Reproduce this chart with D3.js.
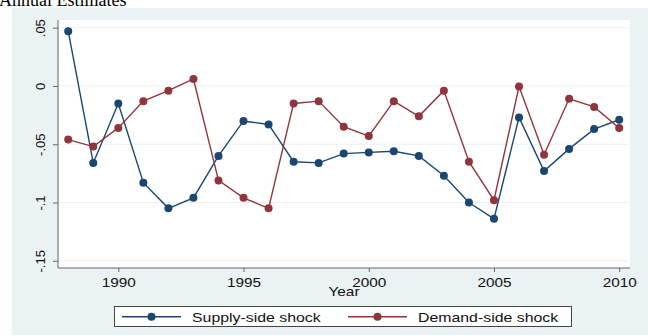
<!DOCTYPE html>
<html>
<head>
<meta charset="utf-8">
<script src="https://cdn.jsdelivr.net/npm/d3@7"></script>
<style>
  html, body { margin: 0; padding: 0; background: #fff; }
  svg { display: block; }
  text { font-family: "Liberation Sans", Arial, sans-serif; fill: #111; }
</style>
</head>
<body>
<div id="chart"></div>
<script>
// data
var years       = d3.range(1988, 2011);
var supply      = [0.047, -0.066, -0.015, -0.083, -0.105, -0.096, -0.060, -0.030,
                   -0.033, -0.065, -0.066, -0.058, -0.057, -0.056, -0.060, -0.077,
                   -0.100, -0.114, -0.027, -0.073, -0.054, -0.037, -0.029];
var demand      = [-0.046, -0.052, -0.036, -0.013, -0.004, 0.006, -0.081, -0.096,
                   -0.105, -0.015, -0.013, -0.035, -0.043, -0.013, -0.026, -0.004,
                   -0.065, -0.098, -0.0005, -0.059, -0.011, -0.018, -0.036];
var xTicks      = [1990, 1995, 2000, 2005, 2010];
var yTicks      = [0.05, 0, -0.05, -0.1, -0.15];
var yTickLabels = [".05", "0", "-.05", "-.1", "-.15"];
var seriesNames = ["Supply-side shock", "Demand-side shock"];

var chart_width  = 648;
var chart_height = 336;
var navy   = "#1a476f";
var maroon = "#90353b";
var stretch = 1.18;   // the original picture is a little wider than tall

var plot = {left: 58, right: 630, top: 20, bottom: 268};

var x = d3.scaleLinear().domain([1990, 2010]).range([118.3, 619.2]);
var y = d3.scaleLinear().domain([-0.15, 0.05]).range([260.8, 27.7]);

var svg = d3.select("#chart")
  .append("svg")
  .attr("width", chart_width)
  .attr("height", chart_height);

// outer background
svg.append("rect")
  .attr("x", 12).attr("y", 8)
  .attr("width", chart_width - 12).attr("height", 327)
  .attr("fill", "#eaf2f3");

svg.append("text")
  .text("Annual Estimates")
  .attr("x", -1)
  .attr("y", 5.7)
  .style("font-family", "'Liberation Serif', 'DejaVu Serif', serif")
  .style("font-size", "18px")
  .style("fill", "#000");

// plot region
svg.append("rect")
  .attr("x", plot.left).attr("y", plot.top)
  .attr("width", plot.right - plot.left).attr("height", plot.bottom - plot.top)
  .attr("fill", "#fff");

svg.append("g")
  .selectAll("line")
  .data(yTicks)
  .enter()
  .append("line")
  .attr("x1", plot.left).attr("x2", plot.right - 2)
  .attr("y1", (d) => y(d)).attr("y2", (d) => y(d))
  .attr("stroke", "#eaf2f3")
  .attr("stroke-width", 1);

// y axis
var yAxis = svg.append("g")
  .attr("transform", "translate(" + plot.left + ",0)")
  .call(d3.axisLeft(y).tickValues(yTicks).tickSize(5).tickPadding(0)
    .tickFormat((d, i) => yTickLabels[i]));
yAxis.select(".domain")
  .attr("d", "M0," + plot.top + "V" + plot.bottom)
  .attr("stroke", "#666");
yAxis.selectAll(".tick line").attr("stroke", "#666");
yAxis.selectAll(".tick text")
  .attr("x", 0).attr("y", 0).attr("dy", null)
  .attr("transform", "translate(-13,0) rotate(-90)")
  .attr("text-anchor", "middle")
  .style("font-size", "13px")
  .style("font-family", "'Liberation Sans', Arial, sans-serif")
  .style("fill", "#111");

// x axis
var xAxis = svg.append("g")
  .attr("transform", "translate(0," + plot.bottom + ")")
  .call(d3.axisBottom(x).tickValues(xTicks).tickSize(4).tickFormat(d3.format("d")));
xAxis.select(".domain")
  .attr("d", "M" + plot.left + ",0H" + plot.right)
  .attr("stroke", "#666");
xAxis.selectAll(".tick line").attr("stroke", "#666");
xAxis.selectAll(".tick text")
  .attr("y", 0).attr("dy", null)
  .attr("transform", "translate(0,18.7) scale(" + stretch + ",1)")
  .style("font-size", "13px")
  .style("font-family", "'Liberation Sans', Arial, sans-serif")
  .style("fill", "#111");

svg.append("text")
  .text("Year")
  .attr("text-anchor", "middle")
  .attr("transform", "translate(" + (plot.left + plot.right) / 2 + ",296) scale(" + stretch + ",1)")
  .style("font-size", "13px");

// series
var line = d3.line()
  .x((d, i) => x(years[i]))
  .y((d) => y(d));

function draw_series(values, colour){
  var g = svg.append("g");
  g.append("path")
    .attr("d", line(values))
    .attr("fill", "none")
    .attr("stroke", colour)
    .attr("stroke-width", 1.4);
  g.selectAll("circle")
    .data(values)
    .enter()
    .append("circle")
    .attr("cx", (d, i) => x(years[i]))
    .attr("cy", (d) => y(d))
    .attr("r", 4)
    .attr("fill", colour);
}

draw_series(supply, navy);
draw_series(demand, maroon);

// legend
var legend = svg.append("g");
legend.append("rect")
  .attr("x", 114.5).attr("y", 306.5)
  .attr("width", 457).attr("height", 20)
  .attr("fill", "#fff")
  .attr("stroke", "#444")
  .attr("stroke-width", 1);

var legendItems = [
  {name: seriesNames[0], colour: navy, x0: 122},
  {name: seriesNames[1], colour: maroon, x0: 348}
];

legendItems.forEach(function(item){
  legend.append("line")
    .attr("x1", item.x0).attr("x2", item.x0 + 59)
    .attr("y1", 316.7).attr("y2", 316.7)
    .attr("stroke", item.colour)
    .attr("stroke-width", 1.4);
  legend.append("circle")
    .attr("cx", item.x0 + 29.5).attr("cy", 316.7)
    .attr("r", 4)
    .attr("fill", item.colour);
  legend.append("text")
    .text(item.name)
    .attr("transform", "translate(" + (item.x0 + 70) + ",321.5) scale(1.22,1)")
    .style("font-size", "13px");
});
</script>
</body>
</html>
